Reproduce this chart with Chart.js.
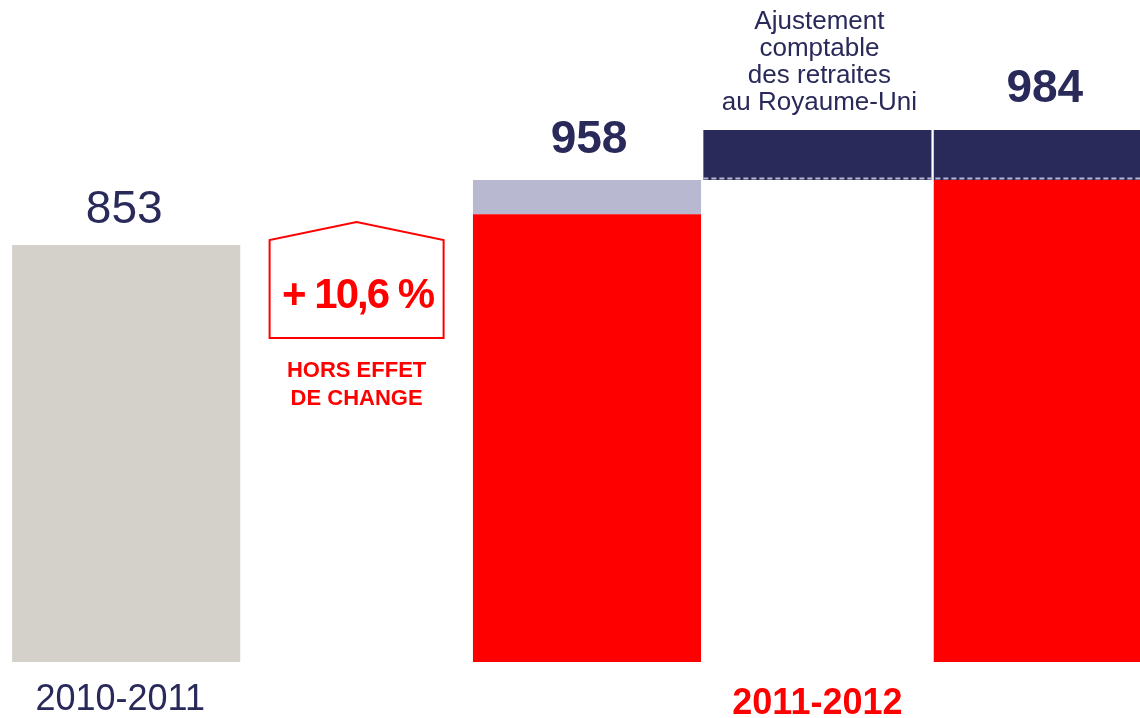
<!DOCTYPE html>
<html>
<head>
<meta charset="utf-8">
<script src="https://cdn.jsdelivr.net/npm/chart.js@4.4.1/dist/chart.umd.min.js"></script>
<style>
  html, body { margin: 0; padding: 0; background: #fff; overflow: hidden; }
  #wrap { width: 1163px; height: 718px; }
</style>
</head>
<body>
<div id="wrap"><canvas id="ch" width="1163" height="718"></canvas></div>
<script>
// Categories (the 2nd slot is the gap holding the growth callout)
const categories = ['2010-2011', 'growth', '2011-2012 before', 'adjustment', '2011-2012'];

// Segment bounds as drawn (the source is schematic, not to scale)
const baseSeg   = [[0, 853], null, [0, 916], null, [0, 986]];
const fxSeg     = [null, null, [916, 986], null, null];
const adjSeg    = [null, null, null, [986, 1088], [986, 1088]];

// Text shown above bars
const valueLabels = ['853', '', '958', '', '984'];
const growthLabel = '+ 10,6 %';
const growthNote = ['HORS EFFET', 'DE CHANGE'];
const adjNote = ['Ajustement', 'comptable', 'des retraites', 'au Royaume-Uni'];
const periodLabels = ['2010-2011', '', '', '2011-2012', ''];

const NAVY = '#29295A', RED = '#FF0000', GREY = '#D4D1CA', LAV = '#B8B8D0';
const FONT = 'Arial, "Liberation Sans", sans-serif';

const overlay = {
  id: 'overlay',
  afterDatasetsDraw(chart) {
    const ctx = chart.ctx;
    const x = chart.scales.x;
    const base = chart.getDatasetMeta(0).data;
    const adj = chart.getDatasetMeta(2).data;

    // dashed line between adjustment and base
    const b3 = adj[3], b4 = adj[4];
    ctx.save();
    ctx.strokeStyle = LAV;
    ctx.lineWidth = 2;
    ctx.setLineDash([5, 3]);
    ctx.beginPath();
    const yd = b4.base - 1.5;
    ctx.moveTo(b3.x - b3.width / 2, yd);
    ctx.lineTo(b4.x + b4.width / 2, yd);
    ctx.stroke();
    ctx.restore();

    ctx.save();
    ctx.textAlign = 'center';
    ctx.textBaseline = 'alphabetic';

    // value labels
    ctx.fillStyle = NAVY;
    ctx.font = '46px ' + FONT;
    ctx.fillText(valueLabels[0], x.getPixelForValue(0) - 2, base[0].y - 22);
    ctx.font = 'bold 46px ' + FONT;
    ctx.fillText(valueLabels[2], x.getPixelForValue(2) + 2, chart.getDatasetMeta(1).data[2].y - 27);
    ctx.fillText(valueLabels[4], x.getPixelForValue(4) - 3, adj[4].y - 28);

    // adjustment note
    ctx.font = '26px ' + FONT;
    adjNote.forEach((t, i) => ctx.fillText(t, x.getPixelForValue(3) + 2, 29 + i * 27));

    // growth callout (house shape)
    const cx = x.getPixelForValue(1);
    ctx.strokeStyle = RED;
    ctx.lineWidth = 2;
    ctx.beginPath();
    ctx.moveTo(cx - 87, 338);
    ctx.lineTo(cx - 87, 240);
    ctx.lineTo(cx, 222);
    ctx.lineTo(cx + 87, 240);
    ctx.lineTo(cx + 87, 338);
    ctx.closePath();
    ctx.stroke();

    ctx.fillStyle = RED;
    ctx.font = 'bold 42px ' + FONT;
    ctx.letterSpacing = '-2px';
    ctx.fillText(growthLabel, cx + 1, 308);
    ctx.letterSpacing = '0px';
    ctx.font = 'bold 22px ' + FONT;
    growthNote.forEach((t, i) => ctx.fillText(t, cx, 377 + i * 28));

    // period labels
    ctx.font = '36px ' + FONT;
    ctx.fillStyle = NAVY;
    ctx.fillText(periodLabels[0], x.getPixelForValue(0) - 6, 710);
    ctx.font = 'bold 36px ' + FONT;
    ctx.fillStyle = RED;
    ctx.fillText(periodLabels[3], x.getPixelForValue(3), 714);
    ctx.restore();
  }
};

new Chart(document.getElementById('ch'), {
  type: 'bar',
  data: {
    labels: categories,
    datasets: [
      { data: baseSeg, backgroundColor: [GREY, GREY, RED, RED, RED], grouped: false },
      { data: fxSeg, backgroundColor: LAV, grouped: false },
      { data: adjSeg, backgroundColor: NAVY, grouped: false }
    ]
  },
  options: {
    responsive: false,
    animation: false,
    layout: { padding: { left: 11, right: 0, top: 0, bottom: 56 } },
    datasets: { bar: { barPercentage: 0.99, categoryPercentage: 1, borderSkipped: false, borderWidth: 0 } },
    plugins: { legend: { display: false }, tooltip: { enabled: false } },
    scales: {
      x: { display: false, grid: { display: false } },
      y: { display: false, min: 0, max: 1354, grid: { display: false } }
    }
  },
  plugins: [overlay]
});
</script>
</body>
</html>
